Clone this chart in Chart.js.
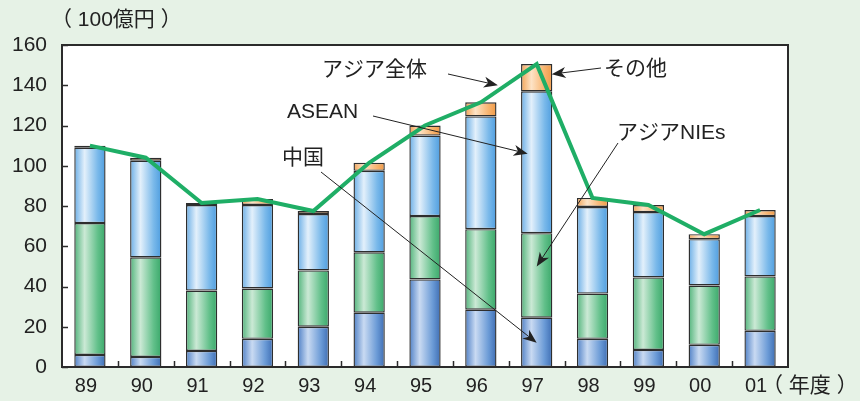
<!DOCTYPE html>
<html>
<head>
<meta charset="utf-8">
<script src="https://cdn.jsdelivr.net/npm/chart.js@4/dist/chart.umd.min.js"></script>
<style>
  html, body { margin: 0; padding: 0; background: #e6f2e6; }
  canvas { display: block; }
</style>
</head>
<body>
<canvas id="c" width="860" height="401"></canvas>
<script>
// Fiscal years (89 = FY1989 ... 01 = FY2001)
const years = ['89', '90', '91', '92', '93', '94', '95', '96', '97', '98', '99', '00', '01'];

// Stacked components, unit: 100 million yen
const china = [6, 5, 8, 14, 20, 27, 43.5, 28.5, 24.5, 14, 8.5, 11, 18];
const nies  = [65.5, 49.5, 30, 25, 28, 30, 31.5, 40, 42, 22.5, 36, 29.5, 27];
const asean = [37.5, 48, 42.5, 41.5, 28, 40.5, 40, 56, 70.5, 43, 32.5, 23, 30];
const other = [1, 1.5, 1, 3, 1.5, 4, 5, 7, 13.5, 4.5, 3.5, 2.5, 3];

// Asia total (line)
const asiaTotal = [110, 104, 81.5, 83.5, 77.5, 101.5, 120, 131.5, 150.5, 84, 80.5, 66, 78];

// Value axis
const yMin = 0, yMax = 160, yStep = 20;

const FONT_LATIN = "'Liberation Sans', Arial, sans-serif";
const FONT_JP = "'Liberation Sans', 'Noto Sans CJK JP', sans-serif";
const BAR_FRACTION = 0.56;

// Horizontal cylinder-like shading for each bar segment
function barFill(stops) {
  return (ctx) => {
    const chart = ctx.chart;
    const xs = chart.scales && chart.scales.x;
    if (!xs || ctx.dataIndex == null || !isFinite(xs.width)) return stops[2];
    const cx = xs.getPixelForValue(ctx.dataIndex);
    const w = (xs.width / years.length) * BAR_FRACTION;
    const g = chart.ctx.createLinearGradient(cx - w / 2, 0, cx + w / 2, 0);
    g.addColorStop(0, stops[0]);
    g.addColorStop(0.33, stops[1]);
    g.addColorStop(0.75, stops[2]);
    g.addColorStop(1, stops[3]);
    return g;
  };
}

const barCommon = {
  type: 'bar',
  stack: 'asia',
  borderColor: '#2e2e2e',
  borderWidth: 1.4,
  borderSkipped: false,
  barPercentage: BAR_FRACTION,
  categoryPercentage: 1,
  order: 2
};

// Callout labels: tip anchored to a category index / value, text in pixels
const callouts = [
  { text: 'アジア全体', tx: 322, ty: 70, from: [448, 74], idx: 7, dx: 17, val: 140 },
  { text: 'その他',     tx: 604, ty: 69, from: [601, 68], idx: 8, dx: 15, val: 145.5 },
  { text: 'ASEAN',      tx: 287, ty: 112, from: [373, 116], idx: 8, dx: -9, val: 106 },
  { text: '中国',       tx: 282, ty: 158, from: [321, 172], idx: 8, dx: 0, val: 12 },
  { text: 'アジアNIEs', tx: 617, ty: 133, from: [618, 143], idx: 8, dx: 0, val: 50 }
];

function arrow(ctx, x1, y1, x2, y2) {
  const ang = Math.atan2(y2 - y1, x2 - x1);
  const L = 14, H = 5.5, N = 10;
  const bx = x2 - Math.cos(ang) * N, by = y2 - Math.sin(ang) * N;
  ctx.beginPath();
  ctx.moveTo(x1, y1);
  ctx.lineTo(bx, by);
  ctx.stroke();
  const px = -Math.sin(ang), py = Math.cos(ang);
  const backX = x2 - Math.cos(ang) * L, backY = y2 - Math.sin(ang) * L;
  ctx.beginPath();
  ctx.moveTo(x2, y2);
  ctx.lineTo(backX + px * H, backY + py * H);
  ctx.lineTo(bx, by);
  ctx.lineTo(backX - px * H, backY - py * H);
  ctx.closePath();
  ctx.fill();
}

const framePlugin = {
  id: 'frame',
  beforeDraw(chart) {
    const { ctx, chartArea: a } = chart;
    ctx.save();
    ctx.fillStyle = '#e6f2e6';
    ctx.fillRect(0, 0, chart.width, chart.height);
    ctx.fillStyle = '#ffffff';
    ctx.fillRect(a.left, a.top, a.right - a.left, a.bottom - a.top);
    ctx.restore();
  },
  afterDraw(chart) {
    const { ctx, chartArea: a, scales } = chart;
    const xs = scales.x, ys = scales.y;
    ctx.save();
    // plot frame
    ctx.strokeStyle = '#2b2b2b';
    ctx.lineWidth = 2;
    ctx.strokeRect(a.left, a.top, a.right - a.left, a.bottom - a.top);
    // inward tick marks
    ctx.lineWidth = 1.5;
    ys.ticks.forEach((t) => {
      const y = Math.round(ys.getPixelForValue(t.value)) + 0.5;
      ctx.beginPath();
      ctx.moveTo(a.left, y);
      ctx.lineTo(a.left + 6, y);
      ctx.stroke();
    });
    for (let i = 1; i < years.length; i++) {
      const x = Math.round((xs.getPixelForValue(i - 1) + xs.getPixelForValue(i)) / 2) + 0.5;
      ctx.beginPath();
      ctx.moveTo(x, a.bottom);
      ctx.lineTo(x, a.bottom - 6);
      ctx.stroke();
    }
    // axis captions
    ctx.fillStyle = '#222222';
    ctx.textBaseline = 'middle';
    ctx.textAlign = 'left';
    ctx.font = '21px ' + FONT_JP;
    ctx.fillText('（ 100億円 ）', 51, 20);
    ctx.fillText('（ 年度 ）', 762, 386);
    // callouts
    ctx.strokeStyle = '#222222';
    ctx.fillStyle = '#222222';
    ctx.lineWidth = 1;
    callouts.forEach((c) => {
      const tipX = xs.getPixelForValue(c.idx) + c.dx;
      const tipY = ys.getPixelForValue(c.val);
      arrow(ctx, c.from[0], c.from[1], tipX, tipY);
    });
    ctx.font = '21px ' + FONT_JP;
    ctx.textBaseline = 'middle';
    callouts.forEach((c) => {
      ctx.fillText(c.text, c.tx, c.ty);
    });
    ctx.restore();
  }
};

new Chart(document.getElementById('c'), {
  data: {
    labels: years,
    datasets: [
      { type: 'line', label: 'アジア全体', data: asiaTotal, stack: 'total',
        borderColor: '#1fae66', borderWidth: 4, pointRadius: 0, tension: 0,
        borderJoinStyle: 'miter', fill: false, order: 0 },
      Object.assign({ label: '中国', data: china,
        backgroundColor: barFill(['#4f80c6', '#c9daf2', '#6a9ad6', '#3e6db3']) }, barCommon),
      Object.assign({ label: 'アジアNIEs', data: nies,
        backgroundColor: barFill(['#52b47c', '#cbe9d5', '#62c08a', '#3aa86a']) }, barCommon),
      Object.assign({ label: 'ASEAN', data: asean,
        backgroundColor: barFill(['#6aaee6', '#e3f0fb', '#7ab9ea', '#4e9ddf']) }, barCommon),
      Object.assign({ label: 'その他', data: other,
        backgroundColor: barFill(['#f2a457', '#fde3c6', '#f7b36e', '#f09a47']) }, barCommon)
    ]
  },
  options: {
    responsive: false,
    animation: false,
    devicePixelRatio: 1,
    layout: { padding: { top: 45, right: 72, left: 0, bottom: 0 } },
    plugins: { legend: { display: false }, tooltip: { enabled: false } },
    scales: {
      x: {
        stacked: true,
        offset: true,
        grid: { display: false, drawTicks: false },
        border: { display: false },
        ticks: { padding: 7, labelOffset: -4, color: '#222222', font: { family: FONT_LATIN, size: 20 } },
        afterFit(s) { s.height = 34; }
      },
      y: {
        stacked: true,
        min: yMin, max: yMax,
        grid: { display: false, drawTicks: false },
        border: { display: false },
        ticks: { stepSize: yStep, padding: 15, color: '#222222', font: { family: FONT_LATIN, size: 21 } },
        afterFit(s) { s.width = 62; }
      }
    }
  },
  plugins: [framePlugin]
});
</script>
</body>
</html>
